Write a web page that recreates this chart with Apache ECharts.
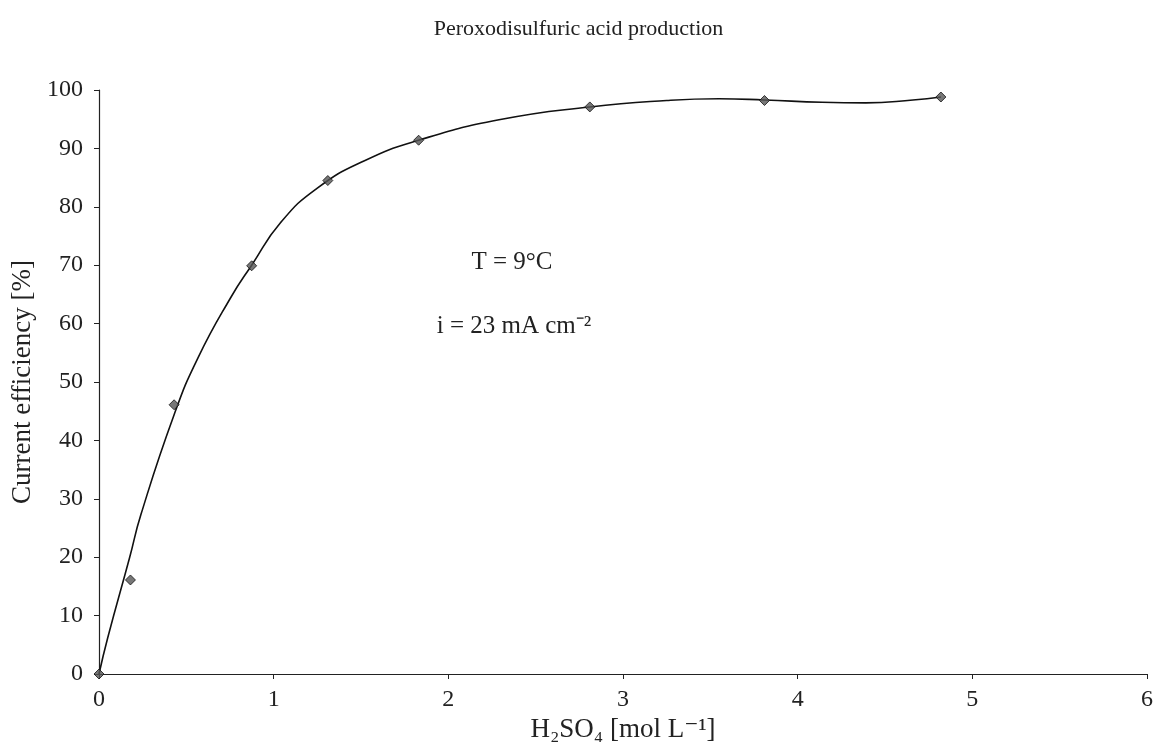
<!DOCTYPE html>
<html><head><meta charset="utf-8">
<script src="https://cdn.jsdelivr.net/npm/echarts@6/dist/echarts.min.js"></script>
<style>html,body{margin:0;padding:0;background:#fff}#c{width:1157px;height:742px}</style>
</head><body><div id="c"></div>
<script>
const concentration = [0, 0.18, 0.43, 0.874, 1.31, 1.83, 2.81, 3.81, 4.82];
const efficiency = [0, 16.1, 46.1, 69.9, 84.5, 91.4, 97.1, 98.2, 98.8];
const curveX = [0, 0.05, 0.175, 0.24, 0.43, 0.566, 0.757, 0.874, 1.04, 1.25, 1.52, 1.83, 2.29, 2.81, 3.25, 3.55, 3.81, 4.14, 4.39, 4.66, 4.82];
const curveY = [0, 6.2, 19.9, 27.3, 44.4, 54.1, 64.6, 70.0, 77.3, 83.2, 87.9, 91.4, 94.9, 97.1, 98.2, 98.5, 98.3, 97.9, 97.8, 98.3, 98.8];
const titleText = 'Peroxodisulfuric acid production';
const xName = 'H₂SO₄ [mol L⁻¹]';
const yName = 'Current efficiency [%]';
const note1 = 'T = 9°C';
const note2 = 'i = 23 mA cm⁻²';

const font = '"Liberation Serif", "DejaVu Serif", serif';
const chart = echarts.init(document.getElementById('c'));
chart.setOption({
  backgroundColor: '#fff',
  animation: false,
  textStyle: {fontFamily: font, color: '#222'},
  title: {text: titleText, left: 'center', top: 13,
    textStyle: {fontFamily: font, fontSize: 22, fontWeight: 'normal', color: '#222'}},
  grid: {left: 99, right: 10, top: 90, bottom: 68, containLabel: false, outerBoundsMode: 'none'},
  xAxis: {type: 'value', min: 0, max: 6, interval: 1,
    name: xName, nameLocation: 'middle', nameGap: 38,
    nameTextStyle: {fontFamily: font, fontSize: 27, color: '#222'},
    axisLine: {lineStyle: {color: '#222', width: 1.2}},
    axisTick: {show: true, length: 5, inside: false, lineStyle: {color: '#222'}},
    axisLabel: {fontFamily: font, fontSize: 24, color: '#222', margin: 14},
    splitLine: {show: false}},
  yAxis: {type: 'value', min: 0, max: 100, interval: 10,
    name: yName, nameLocation: 'middle', nameGap: 60,
    nameTextStyle: {fontFamily: font, fontSize: 27, color: '#222'},
    axisLine: {show: true, lineStyle: {color: '#222', width: 1.2}},
    axisTick: {show: true, length: 5, lineStyle: {color: '#222'}},
    axisLabel: {fontFamily: font, fontSize: 24, color: '#222', margin: 16},
    splitLine: {show: false}},
  graphic: [
    {type: 'text', x: 512, y: 262, style: {text: note1, font: '25px "Liberation Serif"', fill: '#222', textAlign: 'center', textVerticalAlign: 'middle'}},
    {type: 'text', x: 514, y: 326, style: {text: note2, font: '25px "Liberation Serif"', fill: '#222', textAlign: 'center', textVerticalAlign: 'middle'}}
  ],
  series: [
    {type: 'line', data: curveX.map((x, i) => [x, curveY[i]]), smooth: 0.5, showSymbol: false,
      lineStyle: {color: '#111', width: 1.6}, z: 2},
    {type: 'scatter', data: concentration.map((x, i) => [x, efficiency[i]]), symbol: 'diamond', symbolSize: 10,
      itemStyle: {color: '#555', borderColor: '#111', borderWidth: 1}, z: 3}
  ]
});
</script></body></html>
